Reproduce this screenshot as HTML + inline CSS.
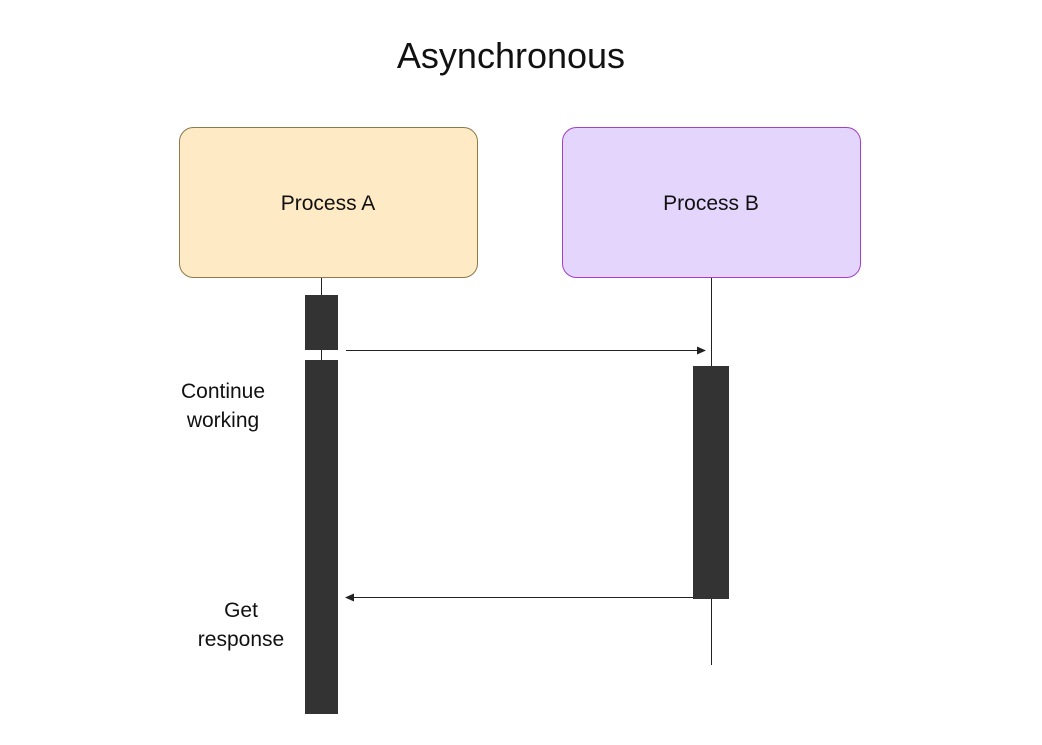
<!DOCTYPE html>
<html><head><style>
body{margin:0;background:#fff;}
svg{display:block;font-family:"Liberation Sans",sans-serif;}
</style></head><body>
<svg width="1042" height="745" viewBox="0 0 1042 745">
<rect width="1042" height="745" fill="#fff"/>
<text x="511" y="68" font-size="36" text-anchor="middle" fill="#111">Asynchronous</text>
<rect x="179.5" y="127.5" width="298" height="150" rx="14" fill="#feebc5" stroke="#8c7a4a"/>
<text x="328" y="210" font-size="21" text-anchor="middle" fill="#111">Process A</text>
<rect x="562.5" y="127.5" width="298" height="150" rx="14" fill="#e3d5fb" stroke="#a23fcb"/>
<text x="711" y="210" font-size="21" text-anchor="middle" fill="#111">Process B</text>
<line x1="321.5" y1="278" x2="321.5" y2="360" stroke="#222"/>
<line x1="711.5" y1="278" x2="711.5" y2="665" stroke="#222"/>
<rect x="305" y="295" width="33" height="55" fill="#333"/>
<rect x="305" y="360" width="33" height="354" fill="#333"/>
<rect x="693" y="366" width="36" height="233" fill="#333"/>
<line x1="346" y1="350.5" x2="700" y2="350.5" stroke="#222"/>
<polygon points="706,350.5 697,346.5 697,354.5" fill="#222"/>
<line x1="352" y1="597.5" x2="693" y2="597.5" stroke="#222"/>
<polygon points="345,597.5 354,593.5 354,601.5" fill="#222"/>
<text x="223" y="398" font-size="21" text-anchor="middle" fill="#111">Continue</text>
<text x="223" y="427" font-size="21" text-anchor="middle" fill="#111">working</text>
<text x="241" y="617" font-size="21" text-anchor="middle" fill="#111">Get</text>
<text x="241" y="646" font-size="21" text-anchor="middle" fill="#111">response</text>
</svg>
</body></html>
